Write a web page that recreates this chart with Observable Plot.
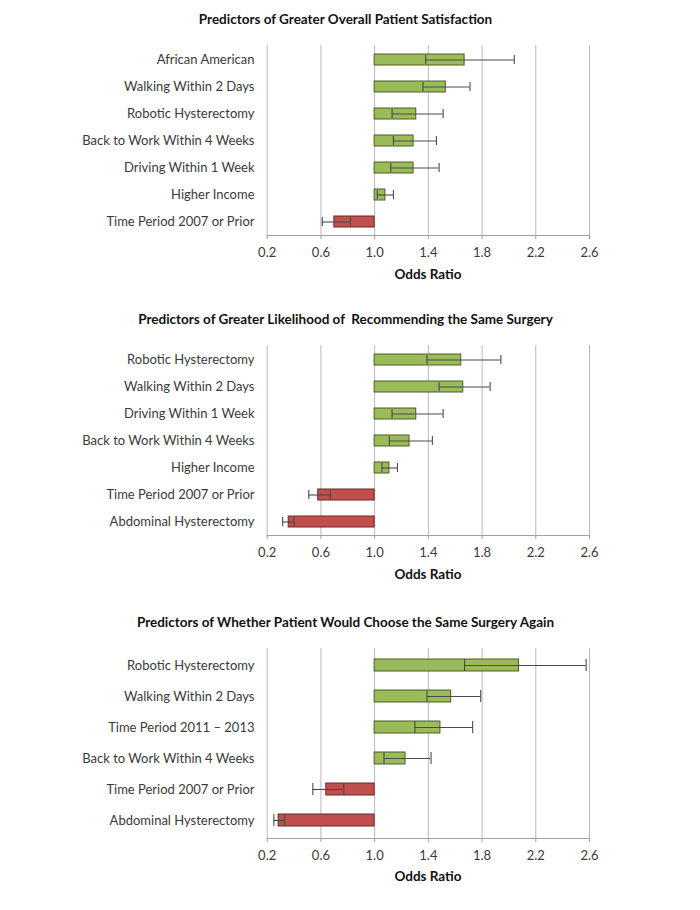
<!DOCTYPE html>
<html>
<head>
<meta charset="utf-8">
<script src="https://cdn.jsdelivr.net/npm/d3@7"></script>
<script src="https://cdn.jsdelivr.net/npm/@observablehq/plot@0.6"></script>
<style>
  body { margin: 0; background: #fff; }
  #root { position: relative; width: 700px; height: 910px; font-family: "Lato", sans-serif; overflow: hidden; }
  .title { position: absolute; left: 0; width: 691px; text-align: center; font-weight: bold; font-size: 13.5px; color: #111; white-space: nowrap; line-height: 16px; }
  .xlabel { position: absolute; left: 0; width: 856px; text-align: center; font-weight: bold; font-size: 13.5px; color: #111; line-height: 16px; }
  .panel { position: absolute; left: 0; }
</style>
</head>
<body>
<div id="root"></div>
<script>
// ---- data ----
const xTicks = [0.2, 0.6, 1.0, 1.4, 1.8, 2.2, 2.6];
const baseline = 1.0;

const p1Title = "Predictors of Greater Overall Patient Satisfaction";
const p1Labels = ["African American", "Walking Within 2 Days", "Robotic Hysterectomy", "Back to Work Within 4 Weeks", "Driving Within 1 Week", "Higher Income", "Time Period 2007 or Prior"];
const p1OR = [1.67, 1.53, 1.31, 1.29, 1.29, 1.08, 0.70];
const p1Lo = [1.38, 1.36, 1.13, 1.14, 1.12, 1.02, 0.61];
const p1Hi = [2.04, 1.71, 1.51, 1.46, 1.48, 1.14, 0.82];

const p2Title = "Predictors of Greater Likelihood of  Recommending the Same Surgery";
const p2Labels = ["Robotic Hysterectomy", "Walking Within 2 Days", "Driving Within 1 Week", "Back to Work Within 4 Weeks", "Higher Income", "Time Period 2007 or Prior", "Abdominal Hysterectomy"];
const p2OR = [1.645, 1.66, 1.31, 1.26, 1.11, 0.58, 0.36];
const p2Lo = [1.39, 1.48, 1.13, 1.11, 1.055, 0.51, 0.315];
const p2Hi = [1.94, 1.86, 1.51, 1.43, 1.17, 0.67, 0.40];

const p3Title = "Predictors of Whether Patient Would Choose the Same Surgery Again";
const p3Labels = ["Robotic Hysterectomy", "Walking Within 2 Days", "Time Period 2011 \u2013 2013", "Back to Work Within 4 Weeks", "Time Period 2007 or Prior", "Abdominal Hysterectomy"];
const p3OR = [2.075, 1.57, 1.49, 1.23, 0.64, 0.285];
const p3Lo = [1.67, 1.39, 1.30, 1.07, 0.54, 0.25];
const p3Hi = [2.575, 1.79, 1.73, 1.42, 0.77, 0.33];

const green = "#9bbb59", greenStroke = "#4a5e26";
const red = "#c0504d", redStroke = "#6e2725";
const font = "'Lato', sans-serif";

const root = document.getElementById("root");

function panel({title, labels, or, lo, hi, titleY, svgTop, plotTop, plotBottom, xlabelY, capInset}) {
  const data = labels.map((label, i) => ({label, or: or[i], lo: lo[i], hi: hi[i]}));
  const t = document.createElement("div");
  t.className = "title"; t.style.whiteSpace = "pre"; t.textContent = title; t.style.top = (titleY - 8) + "px";
  root.appendChild(t);

  const marginTop = plotTop - svgTop;
  const marginBottom = 28;
  const height = plotBottom - svgTop + marginBottom;
  const chart = Plot.plot({
    width: 700,
    height,
    marginLeft: 266.7,
    marginRight: 111,
    marginTop,
    marginBottom,
    style: {fontFamily: font, fontSize: "13px", color: "#3a3a3a", background: "transparent", overflow: "visible"},
    x: {domain: [0.2, 2.6]},
    y: {domain: labels, paddingInner: 0.6, paddingOuter: 0.3},
    marks: [
      Plot.ruleX(xTicks, {stroke: "#b8b8b8", strokeWidth: 1}),
      Plot.frame({anchor: "bottom", stroke: "#a0a0a0"}),
      Plot.barX(data, {
        y: "label", x1: () => baseline, x2: "or",
        fill: d => d.or >= baseline ? green : red,
        stroke: d => d.or >= baseline ? greenStroke : redStroke,
        strokeWidth: 1
      }),
      Plot.ruleY(data, {y: "label", x1: "lo", x2: "hi", stroke: "#4a4a4a", strokeWidth: 1.1}),
      Plot.tickX(data, {y: "label", x: "lo", stroke: "#4a4a4a", strokeWidth: 1.1, insetTop: capInset, insetBottom: capInset}),
      Plot.tickX(data, {y: "label", x: "hi", stroke: "#4a4a4a", strokeWidth: 1.1, insetTop: capInset, insetBottom: capInset}),
      Plot.axisX({ticks: xTicks, tickFormat: d3.format(".1f"), tickSize: 4, tickPadding: 8, stroke: "#a0a0a0", label: null, fill: "#3a3a3a"}),
      Plot.axisY({tickSize: 0, tickPadding: 12.7, label: null, fill: "#3a3a3a"})
    ]
  });
  chart.classList.add("panel");
  chart.style.top = svgTop + "px";
  root.appendChild(chart);

  const xl = document.createElement("div");
  xl.className = "xlabel"; xl.textContent = "Odds Ratio"; xl.style.top = (xlabelY - 8) + "px";
  root.appendChild(xl);
}

panel({title: p1Title, labels: p1Labels, or: p1OR, lo: p1Lo, hi: p1Hi, titleY: 19, svgTop: 40, plotTop: 45, plotBottom: 235, xlabelY: 273.5, capInset: 10});
panel({title: p2Title, labels: p2Labels, or: p2OR, lo: p2Lo, hi: p2Hi, titleY: 319, svgTop: 340, plotTop: 345, plotBottom: 535, xlabelY: 573.5, capInset: 10});
panel({title: p3Title, labels: p3Labels, or: p3OR, lo: p3Lo, hi: p3Hi, titleY: 622, svgTop: 643, plotTop: 648, plotBottom: 838, xlabelY: 876, capInset: 12});
</script>
</body>
</html>
